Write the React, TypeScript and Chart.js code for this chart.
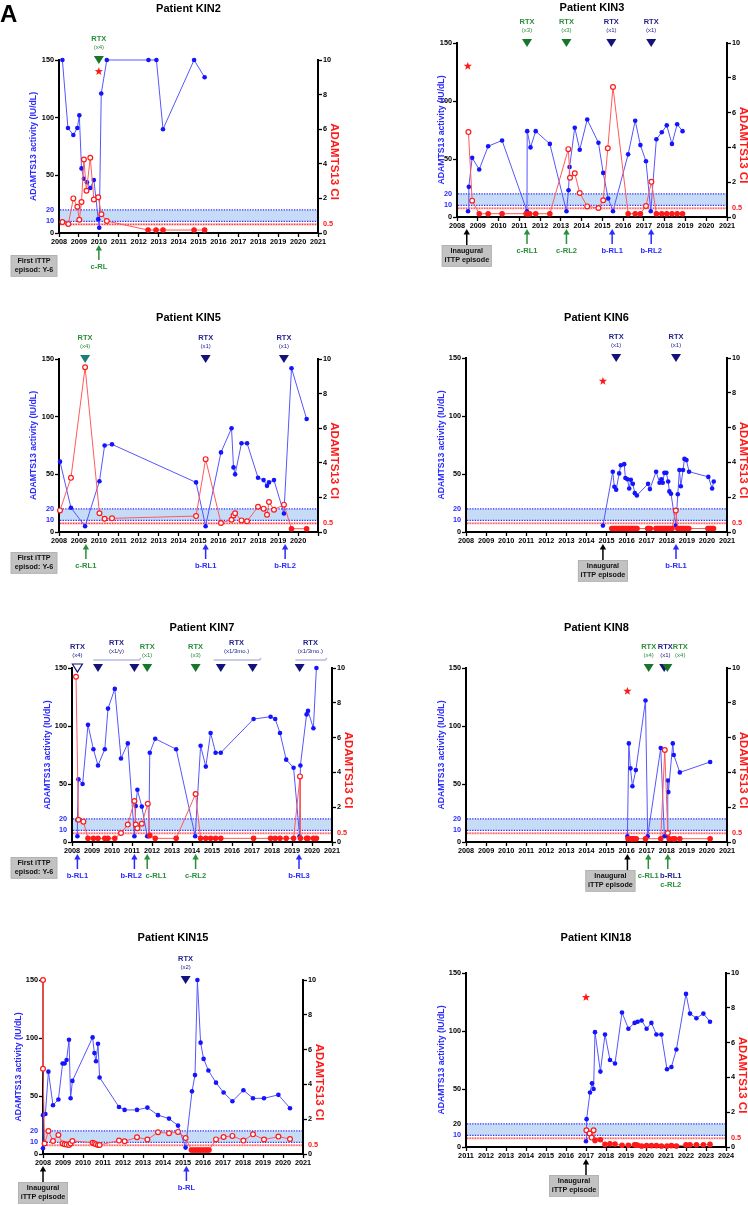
import { useEffect, useRef } from "react";
import { Chart, registerables } from "chart.js";

Chart.register(...registerables);

const FONT = '"Liberation Sans", Arial, Helvetica, sans-serif';

// ---------- shared axes ----------
const activityTicks = [0, 10, 20, 50, 100, 150];
const ciTicks = [0, 0.5, 2, 4, 6, 8, 10];
const yearTicks2008 = [2008, 2009, 2010, 2011, 2012, 2013, 2014, 2015, 2016, 2017, 2018, 2019, 2020, 2021];
const yearTicks2011 = [2011, 2012, 2013, 2014, 2015, 2016, 2017, 2018, 2019, 2020, 2021, 2022, 2023, 2024];

const ACTIVITY_MAX = 150;
const CI_MAX = 10;
const BAND_LOW = 10;
const BAND_HIGH = 20;
const CI_CUTOFF = 0.5;

// ---------- colours ----------
const BLUE = "#1414ff";
const BLUE_LINE = "#5656ff";
const BLUE_TEXT = "#2b2bff";
const RED = "#ff1a1a";
const RED_LINE = "#ff5a5a";
const GREEN_TRI = "#17762a";
const GREEN_TEXT = "#2a8f3a";
const TEAL_TRI = "#1d7d7a";
const NAVY = "#12127a";
const NAVY_TEXT = "#23238c";

// ---------- Patient KIN2 ----------
const kin2ActivityYears = [2008.17, 2008.45, 2008.72, 2008.92, 2009.02, 2009.13, 2009.25, 2009.4, 2009.57, 2009.75, 2009.97, 2010.02, 2010.12, 2010.4, 2012.49, 2012.89, 2013.22, 2014.78, 2015.31];
const kin2Activity = [150, 91, 85, 91, 102, 56, 47, 44, 39, 46, 12, 4.5, 121, 150, 150, 150, 90, 150, 135];
const kin2CiYears = [2008.17, 2008.47, 2008.72, 2008.92, 2009.02, 2009.13, 2009.25, 2009.38, 2009.57, 2009.75, 2009.97, 2010.13, 2010.4, 2012.47, 2012.87, 2013.22, 2014.78, 2015.31];
const kin2Ci = [0.63, 0.52, 2.0, 1.52, 0.77, 1.79, 4.25, 2.44, 4.35, 1.94, 2.06, 1.08, 0.69, 0.17, 0.17, 0.17, 0.17, 0.17];
const kin2Rtx = [{ year: 2010.0, group: "c", dose: "(x4)" }];
const kin2Relapses = [{ year: 2010.0, group: "c", labels: [{ text: "c-RL", group: "c" }] }];
const kin2Star = { year: 2010.0, value: 140 };

// ---------- Patient KIN3 ----------
const kin3ActivityYears = [2008.53, 2008.57, 2008.73, 2009.07, 2009.5, 2010.17, 2011.37, 2011.38, 2011.54, 2011.79, 2012.47, 2013.27, 2013.37, 2013.42, 2013.67, 2013.91, 2014.27, 2014.81, 2015.04, 2015.28, 2015.51, 2016.24, 2016.58, 2016.83, 2017.1, 2017.33, 2017.6, 2017.86, 2018.1, 2018.35, 2018.6, 2018.86];
const kin3Activity = [5, 26, 51, 41, 61, 66, 5, 74, 60, 74, 63, 5, 23, 43, 77, 58, 84, 64, 38, 16, 5, 54, 83, 62, 48, 5, 67, 73, 79, 63, 80, 74];
const kin3CiYears = [2008.55, 2008.73, 2009.07, 2009.5, 2010.17, 2011.33, 2011.42, 2011.5, 2011.79, 2012.47, 2013.36, 2013.44, 2013.67, 2013.91, 2014.27, 2014.81, 2015.04, 2015.26, 2015.51, 2016.24, 2016.58, 2016.83, 2017.1, 2017.36, 2017.6, 2017.86, 2018.1, 2018.35, 2018.6, 2018.86];
const kin3Ci = [4.88, 0.94, 0.19, 0.19, 0.19, 0.19, 0.19, 0.19, 0.19, 0.19, 3.9, 2.26, 2.51, 1.38, 0.61, 0.52, 0.96, 3.95, 7.47, 0.19, 0.19, 0.19, 0.63, 2.02, 0.19, 0.19, 0.19, 0.19, 0.19, 0.19];
const kin3Rtx = [
  { year: 2011.37, group: "c", dose: "(x3)" },
  { year: 2013.27, group: "c", dose: "(x3)" },
  { year: 2015.43, group: "b", dose: "(x1)" },
  { year: 2017.35, group: "b", dose: "(x1)" },
];
const kin3Relapses = [
  { year: 2011.37, group: "c", labels: [{ text: "c-RL1", group: "c" }] },
  { year: 2013.27, group: "c", labels: [{ text: "c-RL2", group: "c" }] },
  { year: 2015.47, group: "b", labels: [{ text: "b-RL1", group: "b" }] },
  { year: 2017.35, group: "b", labels: [{ text: "b-RL2", group: "b" }] },
];
const kin3Star = { year: 2008.52, value: 130 };
const kin3Inaugural = 2008.47;

// ---------- Patient KIN5 ----------
const kin5ActivityYears = [2008.05, 2008.6, 2009.31, 2010.03, 2010.29, 2010.66, 2014.88, 2015.36, 2016.13, 2016.66, 2016.76, 2016.84, 2017.16, 2017.44, 2017.99, 2018.27, 2018.44, 2018.54, 2018.79, 2019.29, 2019.67, 2020.43];
const kin5Activity = [61, 21, 5, 44, 75, 76, 43, 5, 69, 90, 56, 50, 77, 77, 47, 45, 40, 43, 45, 16, 142, 98];
const kin5CiYears = [2008.05, 2008.6, 2009.31, 2010.03, 2010.29, 2010.66, 2014.88, 2015.36, 2016.13, 2016.66, 2016.76, 2016.84, 2017.16, 2017.44, 2017.99, 2018.27, 2018.44, 2018.54, 2018.79, 2019.29, 2019.67, 2020.43];
const kin5Ci = [1.25, 3.13, 9.52, 1.08, 0.77, 0.79, 0.92, 4.21, 0.52, 0.71, 0.96, 1.08, 0.67, 0.62, 1.46, 1.35, 1.0, 1.73, 1.29, 1.58, 0.19, 0.19];
const kin5Rtx = [
  { year: 2009.31, group: "c0", dose: "(x4)" },
  { year: 2015.36, group: "b", dose: "(x1)" },
  { year: 2019.29, group: "b", dose: "(x1)" },
];
const kin5Relapses = [
  { year: 2009.35, group: "c", labels: [{ text: "c-RL1", group: "c" }] },
  { year: 2015.36, group: "b", labels: [{ text: "b-RL1", group: "b" }] },
  { year: 2019.35, group: "b", labels: [{ text: "b-RL2", group: "b" }] },
];

// ---------- Patient KIN6 ----------
const kin6ActivityYears = [2014.82, 2015.31, 2015.39, 2015.48, 2015.63, 2015.71, 2015.88, 2015.94, 2016.04, 2016.13, 2016.21, 2016.31, 2016.41, 2016.51, 2017.07, 2017.16, 2017.47, 2017.64, 2017.73, 2017.8, 2017.88, 2017.98, 2018.07, 2018.13, 2018.21, 2018.45, 2018.55, 2018.63, 2018.7, 2018.81, 2018.88, 2018.98, 2019.11, 2020.07, 2020.26, 2020.34];
const kin6Activity = [5.5, 52, 39, 36.5, 50.5, 57.5, 58.5, 46.5, 45.5, 37.5, 45, 41.5, 33.5, 31.5, 41.5, 37, 52, 42.5, 45.5, 42.5, 51, 51, 43.5, 35, 33, 5.5, 32.5, 53.5, 39.5, 53.5, 63, 62, 52, 47.5, 37.5, 43.5];
const kin6CiYears = [2015.26, 2015.31, 2015.38, 2015.44, 2015.49, 2015.56, 2015.62, 2015.67, 2015.74, 2015.8, 2015.85, 2015.92, 2015.97, 2016.04, 2016.1, 2016.15, 2016.22, 2016.28, 2016.33, 2016.4, 2016.46, 2016.52, 2017.05, 2017.11, 2017.18, 2017.46, 2017.51, 2017.58, 2017.63, 2017.7, 2017.75, 2017.81, 2017.88, 2017.93, 2017.99, 2018.06, 2018.11, 2018.18, 2018.26, 2018.45, 2018.55, 2018.6, 2018.67, 2018.72, 2018.79, 2018.84, 2018.91, 2018.97, 2019.03, 2019.1, 2020.05, 2020.12, 2020.18, 2020.26, 2020.33];
const kin6Ci = [0.2, 0.2, 0.2, 0.2, 0.2, 0.2, 0.2, 0.2, 0.2, 0.2, 0.2, 0.2, 0.2, 0.2, 0.2, 0.2, 0.2, 0.2, 0.2, 0.2, 0.2, 0.2, 0.2, 0.2, 0.2, 0.2, 0.2, 0.2, 0.2, 0.2, 0.2, 0.2, 0.2, 0.2, 0.2, 0.2, 0.2, 0.2, 0.2, 1.23, 0.2, 0.2, 0.2, 0.2, 0.2, 0.2, 0.2, 0.2, 0.2, 0.2, 0.2, 0.2, 0.2, 0.2, 0.2];
const kin6Rtx = [
  { year: 2015.48, group: "b", dose: "(x1)" },
  { year: 2018.46, group: "b", dose: "(x1)" },
];
const kin6Relapses = [{ year: 2018.46, group: "b", labels: [{ text: "b-RL1", group: "b" }] }];
const kin6Star = { year: 2014.82, value: 130 };
const kin6Inaugural = 2014.82;

// ---------- Patient KIN7 ----------
const kin7ActivityYears = [2008.27, 2008.27, 2008.32, 2008.53, 2008.8, 2009.07, 2009.3, 2009.64, 2009.8, 2010.14, 2010.45, 2010.79, 2011.12, 2011.19, 2011.27, 2011.49, 2011.76, 2011.84, 2011.89, 2012.16, 2013.21, 2014.16, 2014.43, 2014.69, 2014.93, 2015.18, 2015.44, 2017.08, 2017.93, 2018.16, 2018.4, 2018.71, 2019.08, 2019.38, 2019.42, 2019.73, 2019.8, 2020.07, 2020.22];
const kin7Activity = [5, 19, 54, 50, 101, 80, 66, 80, 115, 132, 72, 85, 5, 31, 45, 30.5, 5, 5, 77, 89, 80, 5, 83, 65, 94, 77, 77, 106, 108, 106, 94, 71, 64, 5, 66, 110, 113, 98, 150];
const kin7CiYears = [2008.2, 2008.32, 2008.57, 2008.8, 2009.07, 2009.3, 2009.64, 2009.8, 2010.14, 2010.45, 2010.79, 2011.12, 2011.19, 2011.27, 2011.49, 2011.79, 2011.89, 2012.16, 2013.21, 2014.18, 2014.43, 2014.69, 2014.93, 2015.18, 2015.44, 2017.08, 2017.93, 2018.16, 2018.4, 2018.71, 2019.08, 2019.4, 2019.42, 2019.73, 2019.8, 2020.07, 2020.22];
const kin7Ci = [9.5, 1.28, 1.17, 0.21, 0.21, 0.21, 0.21, 0.21, 0.21, 0.52, 1.0, 2.36, 1.0, 0.79, 1.05, 2.2, 0.38, 0.21, 0.21, 2.76, 0.21, 0.21, 0.21, 0.21, 0.21, 0.21, 0.21, 0.21, 0.21, 0.21, 0.21, 3.77, 0.21, 0.21, 0.21, 0.21, 0.21];
const kin7Rtx = [
  { year: 2008.27, group: "b0", dose: "(x4)" },
  { year: 2009.3, group: "b", dose: "" },
  { year: 2011.12, group: "b", dose: "" },
  { year: 2011.76, group: "c", dose: "(x1)" },
  { year: 2014.18, group: "c", dose: "(x3)" },
  { year: 2015.44, group: "b", dose: "" },
  { year: 2017.03, group: "b", dose: "" },
  { year: 2019.38, group: "b", dose: "" },
];
const kin7Courses = [
  { from: 2009.07, to: 2011.37, dose: "(x1/y)" },
  { from: 2015.08, to: 2017.38, dose: "(x1/3mo.)" },
  { from: 2019.17, to: 2020.67, dose: "(x1/3mo.)" },
];
const kin7Relapses = [
  { year: 2008.27, group: "b", labels: [{ text: "b-RL1", group: "b" }] },
  { year: 2011.12, group: "b", labelYear: 2010.96, labels: [{ text: "b-RL2", group: "b" }] },
  { year: 2011.76, group: "c", labelYear: 2012.2, labels: [{ text: "c-RL1", group: "c" }] },
  { year: 2014.18, group: "c", labels: [{ text: "c-RL2", group: "c" }] },
  { year: 2019.35, group: "b", labels: [{ text: "b-RL3", group: "b" }] },
];

// ---------- Patient KIN8 ----------
const kin8ActivityYears = [2016.04, 2016.11, 2016.19, 2016.29, 2016.46, 2016.94, 2017.05, 2017.7, 2017.88, 2018.02, 2018.05, 2018.08, 2018.3, 2018.35, 2018.65, 2020.16];
const kin8Activity = [5, 85, 63.5, 48, 62, 122, 5, 81, 5, 5, 53, 43, 85, 75, 60, 69];
const kin8CiYears = [2016.07, 2016.19, 2016.29, 2016.37, 2016.48, 2016.94, 2017.7, 2017.9, 2018.05, 2018.12, 2018.3, 2018.4, 2018.65, 2020.16];
const kin8Ci = [0.19, 0.19, 0.19, 0.19, 0.19, 0.19, 0.19, 5.29, 0.52, 0.19, 0.19, 0.19, 0.19, 0.19];
const kin8Rtx = [
  { year: 2017.1, group: "c", dose: "(x4)" },
  { year: 2017.87, group: "b", dose: "(x1)", labelYear: 2017.93 },
  { year: 2018.03, group: "c", dose: "(x4)", labelYear: 2018.67 },
];
const kin8Relapses = [
  { year: 2017.08, group: "c", labels: [{ text: "c-RL1", group: "c" }] },
  { year: 2018.05, group: "c", labelYear: 2018.2, labels: [{ text: "b-RL1", group: "bd" }, { text: "c-RL2", group: "c" }] },
];
const kin8Star = { year: 2016.04, value: 130 };
const kin8Inaugural = 2016.04;

// ---------- Patient KIN15 ----------
const kin15ActivityYears = [2008.0, 2008.0, 2008.12, 2008.27, 2008.5, 2008.77, 2008.98, 2009.08, 2009.18, 2009.3, 2009.38, 2009.47, 2010.48, 2010.57, 2010.65, 2010.75, 2010.83, 2011.8, 2012.08, 2012.7, 2013.22, 2013.75, 2014.3, 2014.75, 2015.13, 2015.45, 2015.6, 2015.72, 2015.88, 2016.03, 2016.27, 2016.65, 2017.03, 2017.47, 2018.02, 2018.5, 2019.05, 2019.77, 2020.35];
const kin15Activity = [5, 33.5, 34.5, 71, 42, 47, 78, 78, 81, 98.5, 48, 63, 100.5, 87, 80, 95, 66, 40.5, 38, 38, 40, 33.5, 30.5, 24.5, 5.5, 54, 68, 150, 96, 82, 72, 61.5, 53, 45.5, 55, 48, 48, 51, 39.5];
const kin15CiYears = [2008.0, 2008.0, 2008.08, 2008.27, 2008.5, 2008.77, 2008.98, 2009.08, 2009.18, 2009.3, 2009.38, 2009.47, 2010.48, 2010.57, 2010.65, 2010.75, 2010.83, 2011.8, 2012.08, 2012.7, 2013.22, 2013.75, 2014.3, 2014.75, 2015.13, 2015.42, 2015.52, 2015.62, 2015.72, 2015.82, 2015.91, 2016.02, 2016.11, 2016.21, 2016.3, 2016.65, 2017.03, 2017.47, 2018.02, 2018.5, 2019.05, 2019.77, 2020.35];
const kin15Ci = [10, 4.9, 0.6, 1.32, 0.75, 1.09, 0.61, 0.56, 0.54, 0.52, 0.61, 0.75, 0.65, 0.61, 0.56, 0.52, 0.52, 0.77, 0.73, 0.96, 0.83, 1.25, 1.19, 1.27, 0.92, 0.23, 0.23, 0.23, 0.23, 0.23, 0.23, 0.23, 0.23, 0.23, 0.23, 0.84, 0.98, 1.04, 0.77, 1.13, 0.83, 1.0, 0.86];
const kin15Rtx = [{ year: 2015.13, group: "b", dose: "(x2)" }];
const kin15Relapses = [{ year: 2015.17, group: "b", labels: [{ text: "b-RL", group: "b" }] }];
const kin15Inaugural = 2008.0;

// ---------- Patient KIN18 ----------
const kin18ActivityYears = [2017.0, 2017.03, 2017.2, 2017.3, 2017.38, 2017.45, 2017.72, 2017.95, 2018.2, 2018.45, 2018.8, 2019.12, 2019.43, 2019.58, 2019.78, 2020.03, 2020.27, 2020.52, 2020.77, 2021.05, 2021.27, 2021.52, 2022.0, 2022.2, 2022.52, 2022.87, 2023.2];
const kin18Activity = [5, 24, 47, 55, 50, 99, 65, 97, 75, 72, 116, 102, 107, 108, 109, 102, 107, 97, 97, 67, 69, 84, 132, 115, 111, 115, 108];
const kin18CiYears = [2017.02, 2017.18, 2017.28, 2017.38, 2017.45, 2017.72, 2017.95, 2018.2, 2018.45, 2018.8, 2019.12, 2019.43, 2019.5, 2019.58, 2019.78, 2020.03, 2020.27, 2020.52, 2020.77, 2021.05, 2021.27, 2021.52, 2022.0, 2022.2, 2022.52, 2022.87, 2023.2];
const kin18Ci = [0.96, 0.77, 0.54, 0.96, 0.38, 0.42, 0.15, 0.19, 0.17, 0.1, 0.1, 0.13, 0.12, 0.1, 0.06, 0.08, 0.08, 0.08, 0.06, 0.06, 0.08, 0.06, 0.12, 0.13, 0.13, 0.13, 0.15];
const kin18Star = { year: 2017.0, value: 129 };
const kin18Inaugural = 2017.0;

// ---------- panel definitions ----------
type Box = { x: number; y: number; w: number; h: number };
type Panel = {
  title: string;
  letter?: string;
  xMin: number;
  xMax: number;
  xTicks: number[];
  hideLastYear?: boolean;
  blackTwenty?: boolean;
  actX: number[];
  act: number[];
  ciX: number[];
  ci: number[];
  star?: { year: number; value: number };
  rtx: any[];
  courses: any[];
  relapses: any[];
  inaugural?: number;
  boxShift?: number;
  firstEpisodeY?: number;
  cell: Box;
  plot: { l: number; r: number; t: number; b: number };
  titleY: number;
  leftTitleX: number;
};

const panels: Panel[] = [
  {
    title: "Patient KIN2", letter: "A", xMin: 2008, xMax: 2021, xTicks: yearTicks2008,
    actX: kin2ActivityYears, act: kin2Activity, ciX: kin2CiYears, ci: kin2Ci,
    star: kin2Star, rtx: kin2Rtx, courses: [], relapses: kin2Relapses, firstEpisodeY: 255,
    cell: { x: 0, y: 0, w: 374, h: 290 }, plot: { l: 59, r: 318, t: 60, b: 233 }, titleY: 8.5, leftTitleX: 34,
  },
  {
    title: "Patient KIN3", xMin: 2008, xMax: 2021, xTicks: yearTicks2008,
    actX: kin3ActivityYears, act: kin3Activity, ciX: kin3CiYears, ci: kin3Ci,
    star: kin3Star, rtx: kin3Rtx, courses: [], relapses: kin3Relapses, inaugural: kin3Inaugural,
    cell: { x: 374, y: 0, w: 374, h: 290 }, plot: { l: 457, r: 727, t: 43, b: 217 }, titleY: 8, leftTitleX: 442,
  },
  {
    title: "Patient KIN5", xMin: 2008, xMax: 2021, xTicks: yearTicks2008, hideLastYear: true,
    actX: kin5ActivityYears, act: kin5Activity, ciX: kin5CiYears, ci: kin5Ci,
    rtx: kin5Rtx, courses: [], relapses: kin5Relapses, firstEpisodeY: 552,
    cell: { x: 0, y: 290, w: 374, h: 300 }, plot: { l: 59, r: 318, t: 359, b: 532 }, titleY: 318, leftTitleX: 34,
  },
  {
    title: "Patient KIN6", xMin: 2008, xMax: 2021, xTicks: yearTicks2008,
    actX: kin6ActivityYears, act: kin6Activity, ciX: kin6CiYears, ci: kin6Ci,
    star: kin6Star, rtx: kin6Rtx, courses: [], relapses: kin6Relapses, inaugural: kin6Inaugural,
    cell: { x: 374, y: 290, w: 374, h: 300 }, plot: { l: 466, r: 727, t: 358, b: 532 }, titleY: 318, leftTitleX: 442,
  },
  {
    title: "Patient KIN7", xMin: 2008, xMax: 2021, xTicks: yearTicks2008,
    actX: kin7ActivityYears, act: kin7Activity, ciX: kin7CiYears, ci: kin7Ci,
    rtx: kin7Rtx, courses: kin7Courses, relapses: kin7Relapses, firstEpisodeY: 857,
    cell: { x: 0, y: 590, w: 374, h: 310 }, plot: { l: 72, r: 332, t: 668, b: 842 }, titleY: 628, leftTitleX: 48,
  },
  {
    title: "Patient KIN8", xMin: 2008, xMax: 2021, xTicks: yearTicks2008,
    actX: kin8ActivityYears, act: kin8Activity, ciX: kin8CiYears, ci: kin8Ci,
    star: kin8Star, rtx: kin8Rtx, courses: [], relapses: kin8Relapses, inaugural: kin8Inaugural, boxShift: -17,
    cell: { x: 374, y: 590, w: 374, h: 310 }, plot: { l: 466, r: 727, t: 668, b: 842 }, titleY: 628, leftTitleX: 442,
  },
  {
    title: "Patient KIN15", xMin: 2008, xMax: 2021, xTicks: yearTicks2008,
    actX: kin15ActivityYears, act: kin15Activity, ciX: kin15CiYears, ci: kin15Ci,
    rtx: kin15Rtx, courses: [], relapses: kin15Relapses, inaugural: kin15Inaugural,
    cell: { x: 0, y: 900, w: 374, h: 305 }, plot: { l: 43, r: 303, t: 980, b: 1154 }, titleY: 938, leftTitleX: 18.5,
  },
  {
    title: "Patient KIN18", xMin: 2011, xMax: 2024, xTicks: yearTicks2011, blackTwenty: true,
    actX: kin18ActivityYears, act: kin18Activity, ciX: kin18CiYears, ci: kin18Ci,
    star: kin18Star, rtx: [], courses: [], relapses: [], inaugural: kin18Inaugural, boxShift: -12,
    cell: { x: 374, y: 900, w: 374, h: 305 }, plot: { l: 466, r: 726, t: 973, b: 1147 }, titleY: 938, leftTitleX: 442,
  },
];

// ---------- drawing helpers ----------
function rtxFill(group: string) {
  if (group === "c") return GREEN_TRI;
  if (group === "c0") return TEAL_TRI;
  return NAVY;
}
function rtxText(group: string) {
  return group === "c" || group === "c0" ? GREEN_TEXT : NAVY_TEXT;
}
function relapseColor(group: string) {
  if (group === "c") return GREEN_TEXT;
  if (group === "bd") return NAVY_TEXT;
  if (group === "i") return "#000";
  return BLUE_TEXT;
}

function drawTriangle(ctx: CanvasRenderingContext2D, x: number, yc: number, group: string) {
  ctx.beginPath();
  ctx.moveTo(x - 5, yc - 4);
  ctx.lineTo(x + 5, yc - 4);
  ctx.lineTo(x, yc + 4);
  ctx.closePath();
  if (group === "b0") {
    ctx.fillStyle = "#fff";
    ctx.fill();
    ctx.strokeStyle = NAVY;
    ctx.lineWidth = 1.2;
    ctx.stroke();
  } else {
    ctx.fillStyle = rtxFill(group);
    ctx.fill();
  }
}

function drawUpArrow(ctx: CanvasRenderingContext2D, x: number, yTip: number, yTail: number, color: string) {
  ctx.strokeStyle = color;
  ctx.fillStyle = color;
  ctx.lineWidth = 1.5;
  ctx.beginPath();
  ctx.moveTo(x, yTail);
  ctx.lineTo(x, yTip + 4);
  ctx.stroke();
  ctx.beginPath();
  ctx.moveTo(x, yTip);
  ctx.lineTo(x - 3.2, yTip + 5.5);
  ctx.lineTo(x + 3.2, yTip + 5.5);
  ctx.closePath();
  ctx.fill();
}

function drawStar(ctx: CanvasRenderingContext2D, cx: number, cy: number, R: number, r: number) {
  ctx.beginPath();
  for (let i = 0; i < 10; i++) {
    const ang = -Math.PI / 2 + (i * Math.PI) / 5;
    const rad = i % 2 === 0 ? R : r;
    const px = cx + rad * Math.cos(ang);
    const py = cy + rad * Math.sin(ang);
    if (i === 0) ctx.moveTo(px, py);
    else ctx.lineTo(px, py);
  }
  ctx.closePath();
  ctx.fillStyle = RED;
  ctx.fill();
}

function drawNoteBox(ctx: CanvasRenderingContext2D, x: number, y: number, w: number, h: number, lines: string[]) {
  ctx.fillStyle = "#c2c2c2";
  ctx.fillRect(x, y, w, h);
  ctx.strokeStyle = "#b0b0b0";
  ctx.lineWidth = 0.8;
  ctx.strokeRect(x + 0.4, y + 0.4, w - 0.8, h - 0.8);
  ctx.fillStyle = "#111";
  ctx.font = `bold 7.2px ${FONT}`;
  ctx.textAlign = "center";
  ctx.textBaseline = "middle";
  ctx.fillText(lines[0], x + w / 2, y + h / 2 - 4.6);
  ctx.fillText(lines[1], x + w / 2, y + h / 2 + 4.6);
}

function decorPlugin(p: Panel) {
  const ox = p.cell.x;
  const oy = p.cell.y;
  return {
    id: "panelDecor",
    beforeDatasetsDraw(chart: any) {
      const { ctx, chartArea: a } = chart;
      const ys = chart.scales.y;
      const y1s = chart.scales.y1;
      const yHi = ys.getPixelForValue(BAND_HIGH);
      const yLo = ys.getPixelForValue(BAND_LOW);
      const yCi = y1s.getPixelForValue(CI_CUTOFF);
      const hline = (y: number) => {
        ctx.beginPath();
        ctx.moveTo(a.left + 1, y);
        ctx.lineTo(a.right - 1, y);
        ctx.stroke();
      };
      ctx.save();
      // normal-range band between 10 and 20 IU/dL
      ctx.fillStyle = "#c6dbf6";
      ctx.fillRect(a.left + 1, yHi, a.right - a.left - 2, yLo - yHi);
      ctx.setLineDash([1.3, 1.3]);
      ctx.lineWidth = 1.2;
      ctx.strokeStyle = "#2d2dff";
      hline(yHi);
      hline(yLo);
      // CI cut-off at 0.5
      ctx.setLineDash([]);
      ctx.strokeStyle = "rgba(255,160,160,0.55)";
      ctx.lineWidth = 2.6;
      hline(yCi);
      ctx.setLineDash([1.3, 1.3]);
      ctx.strokeStyle = "#ff3030";
      ctx.lineWidth = 1.1;
      hline(yCi);
      ctx.restore();
    },
    afterDraw(chart: any) {
      const { ctx, chartArea: a } = chart;
      const xs = chart.scales.x;
      const ys = chart.scales.y;
      ctx.save();
      ctx.textAlign = "center";
      ctx.textBaseline = "middle";

      if (p.letter) {
        ctx.fillStyle = "#000";
        ctx.font = `bold 24px ${FONT}`;
        ctx.textAlign = "left";
        ctx.textBaseline = "alphabetic";
        ctx.fillText(p.letter, 0, 22);
        ctx.textAlign = "center";
        ctx.textBaseline = "middle";
      }

      // title
      ctx.fillStyle = "#000";
      ctx.font = `bold 11px ${FONT}`;
      ctx.fillText(p.title, (a.left + a.right) / 2, p.titleY - oy);

      // axis titles
      const midY = (a.top + a.bottom) / 2;
      ctx.save();
      ctx.translate(p.leftTitleX - ox, midY);
      ctx.rotate(-Math.PI / 2);
      ctx.fillStyle = BLUE_TEXT;
      ctx.font = `bold 8.7px ${FONT}`;
      ctx.fillText("ADAMTS13 activity (IU/dL)", 0, 0);
      ctx.restore();
      ctx.save();
      ctx.translate(a.right + 16, midY + 15);
      ctx.rotate(Math.PI / 2);
      ctx.fillStyle = RED;
      ctx.font = `bold 11.5px ${FONT}`;
      ctx.fillText("ADAMTS13 CI", 0, 0);
      ctx.restore();

      // rituximab courses (bracketed)
      for (const c of p.courses) {
        const x0 = xs.getPixelForValue(c.from);
        const x1 = xs.getPixelForValue(c.to);
        ctx.strokeStyle = "#b9b9e2";
        ctx.lineWidth = 1.4;
        ctx.beginPath();
        ctx.moveTo(x0, a.top - 8);
        ctx.lineTo(x1, a.top - 8);
        ctx.lineTo(x1 + 1.5, a.top - 10);
        ctx.stroke();
        const cx = (x0 + x1) / 2;
        ctx.fillStyle = NAVY_TEXT;
        ctx.font = `bold 7.5px ${FONT}`;
        ctx.fillText("RTX", cx, a.top - 25);
        ctx.font = `6px ${FONT}`;
        ctx.fillText(c.dose, cx, a.top - 16.5);
      }

      // rituximab markers
      for (const r of p.rtx) {
        const x = xs.getPixelForValue(r.year);
        drawTriangle(ctx, x, a.top, r.group);
        if (r.dose) {
          const lx = xs.getPixelForValue(r.labelYear ?? r.year);
          ctx.fillStyle = rtxText(r.group);
          ctx.font = `bold 7.5px ${FONT}`;
          ctx.fillText("RTX", lx, a.top - 21);
          ctx.font = `6px ${FONT}`;
          ctx.fillText(r.dose, lx, a.top - 12.5);
        }
      }

      // inaugural episode
      if (p.inaugural !== undefined) {
        const x = xs.getPixelForValue(p.inaugural);
        drawUpArrow(ctx, x, a.bottom + 12, a.bottom + 28, "#000");
        drawNoteBox(ctx, x - 25 + (p.boxShift ?? 0), a.bottom + 28, 50, 21.7, ["Inaugural", "iTTP episode"]);
      }
      if (p.firstEpisodeY !== undefined) {
        drawNoteBox(ctx, 10.7 - ox, p.firstEpisodeY - oy, 46.6, 21.7, ["First iTTP", "episod: Y-6"]);
      }

      // relapse arrows
      for (const rl of p.relapses) {
        const x = xs.getPixelForValue(rl.year);
        const lx = xs.getPixelForValue(rl.labelYear ?? rl.year);
        drawUpArrow(ctx, x, a.bottom + 12, a.bottom + 27, relapseColor(rl.group));
        rl.labels.forEach((lb: any, i: number) => {
          ctx.fillStyle = relapseColor(lb.group);
          ctx.font = `bold 7.6px ${FONT}`;
          ctx.textAlign = "center";
          ctx.textBaseline = "middle";
          ctx.fillText(lb.text, lx, a.bottom + 33.5 + i * 9.3);
        });
      }

      // star
      if (p.star) {
        drawStar(ctx, xs.getPixelForValue(p.star.year), ys.getPixelForValue(p.star.value), 4.3, 1.8);
      }
      ctx.restore();
    },
  };
}

function buildConfig(p: Panel): any {
  const tickFont = { family: FONT, size: 7.3, weight: "bold" as const };
  const lastYear = p.xTicks[p.xTicks.length - 1];
  const cellBottom = p.cell.y + p.cell.h;
  const cellRight = p.cell.x + p.cell.w;
  return {
    type: "line",
    data: {
      datasets: [
        {
          label: "ADAMTS13 CI",
          yAxisID: "y1",
          data: p.ciX.map((x, i) => ({ x, y: p.ci[i] })),
          borderColor: RED_LINE,
          borderWidth: 1,
          pointRadius: p.ci.map((v) => (v < CI_CUTOFF ? 2.2 : 2.4)),
          pointBorderWidth: 1.2,
          pointBorderColor: RED,
          pointBackgroundColor: p.ci.map((v) => (v < CI_CUTOFF ? RED : "#fff")),
          tension: 0,
          clip: false,
        },
        {
          label: "ADAMTS13 activity",
          yAxisID: "y",
          data: p.actX.map((x, i) => ({ x, y: p.act[i] })),
          borderColor: BLUE_LINE,
          borderWidth: 1,
          pointRadius: 2.3,
          pointBorderWidth: 0,
          pointBackgroundColor: BLUE,
          pointBorderColor: BLUE,
          tension: 0,
          clip: false,
        },
      ],
    },
    options: {
      responsive: false,
      animation: false,
      events: [],
      layout: { padding: { top: p.plot.t - p.cell.y, left: 0, right: 0, bottom: 0 } },
      plugins: { legend: { display: false }, tooltip: { enabled: false }, title: { display: false } },
      scales: {
        x: {
          type: "linear",
          min: p.xMin,
          max: p.xMax,
          afterBuildTicks: (s: any) => {
            s.ticks = p.xTicks.map((v) => ({ value: v }));
          },
          afterFit: (s: any) => {
            s.height = cellBottom - p.plot.b;
          },
          ticks: {
            autoSkip: false,
            maxRotation: 0,
            padding: 1,
            color: "#000",
            font: tickFont,
            callback: (v: number) => (p.hideLastYear && v === lastYear ? "" : String(v)),
          },
          grid: { drawOnChartArea: false, drawTicks: true, tickLength: 4, tickColor: "#000", tickWidth: 1.3 },
          border: { color: "#000", width: 2 },
        },
        y: {
          type: "linear",
          position: "left",
          min: 0,
          max: ACTIVITY_MAX,
          afterBuildTicks: (s: any) => {
            s.ticks = activityTicks.map((v) => ({ value: v }));
          },
          afterFit: (s: any) => {
            s.width = p.plot.l - p.cell.x;
          },
          ticks: {
            autoSkip: false,
            padding: 1,
            font: tickFont,
            color: (c: any) => {
              const v = c.tick && c.tick.value;
              if (v === BAND_LOW) return BLUE_TEXT;
              if (v === BAND_HIGH) return p.blackTwenty ? "#000" : BLUE_TEXT;
              return "#000";
            },
            callback: (v: number) => String(v),
          },
          grid: {
            drawOnChartArea: false,
            drawTicks: true,
            tickLength: 4,
            tickWidth: 1.3,
            tickColor: (c: any) => {
              const v = c.tick && c.tick.value;
              return v === BAND_LOW || v === BAND_HIGH ? "rgba(0,0,0,0)" : "#000";
            },
          },
          border: { color: "#000", width: 2 },
        },
        y1: {
          type: "linear",
          position: "right",
          min: 0,
          max: CI_MAX,
          afterBuildTicks: (s: any) => {
            s.ticks = ciTicks.map((v) => ({ value: v }));
          },
          afterFit: (s: any) => {
            s.width = cellRight - p.plot.r;
          },
          ticks: {
            autoSkip: false,
            padding: 1,
            font: tickFont,
            color: (c: any) => (c.tick && c.tick.value === CI_CUTOFF ? RED : "#000"),
            callback: (v: number) => String(v),
          },
          grid: {
            drawOnChartArea: false,
            drawTicks: true,
            tickLength: 4,
            tickWidth: 1.3,
            tickColor: (c: any) => (c.tick && c.tick.value === CI_CUTOFF ? "rgba(0,0,0,0)" : "#000"),
          },
          border: { color: "#000", width: 2 },
        },
      },
    },
    plugins: [decorPlugin(p)],
  };
}

function PanelChart({ panel }: { panel: Panel }) {
  const ref = useRef<HTMLCanvasElement>(null);
  useEffect(() => {
    if (!ref.current) return;
    const chart = new Chart(ref.current, buildConfig(panel));
    return () => chart.destroy();
  }, [panel]);
  const { cell } = panel;
  return (
    <canvas
      ref={ref}
      width={cell.w}
      height={cell.h}
      style={{ position: "absolute", left: cell.x, top: cell.y, width: cell.w, height: cell.h }}
    />
  );
}

export default function App() {
  return (
    <div style={{ position: "absolute", left: 0, top: 0, width: 748, height: 1205, background: "#fff", overflow: "hidden" }}>
      {panels.map((p) => (
        <PanelChart key={p.title} panel={p} />
      ))}
    </div>
  );
}
